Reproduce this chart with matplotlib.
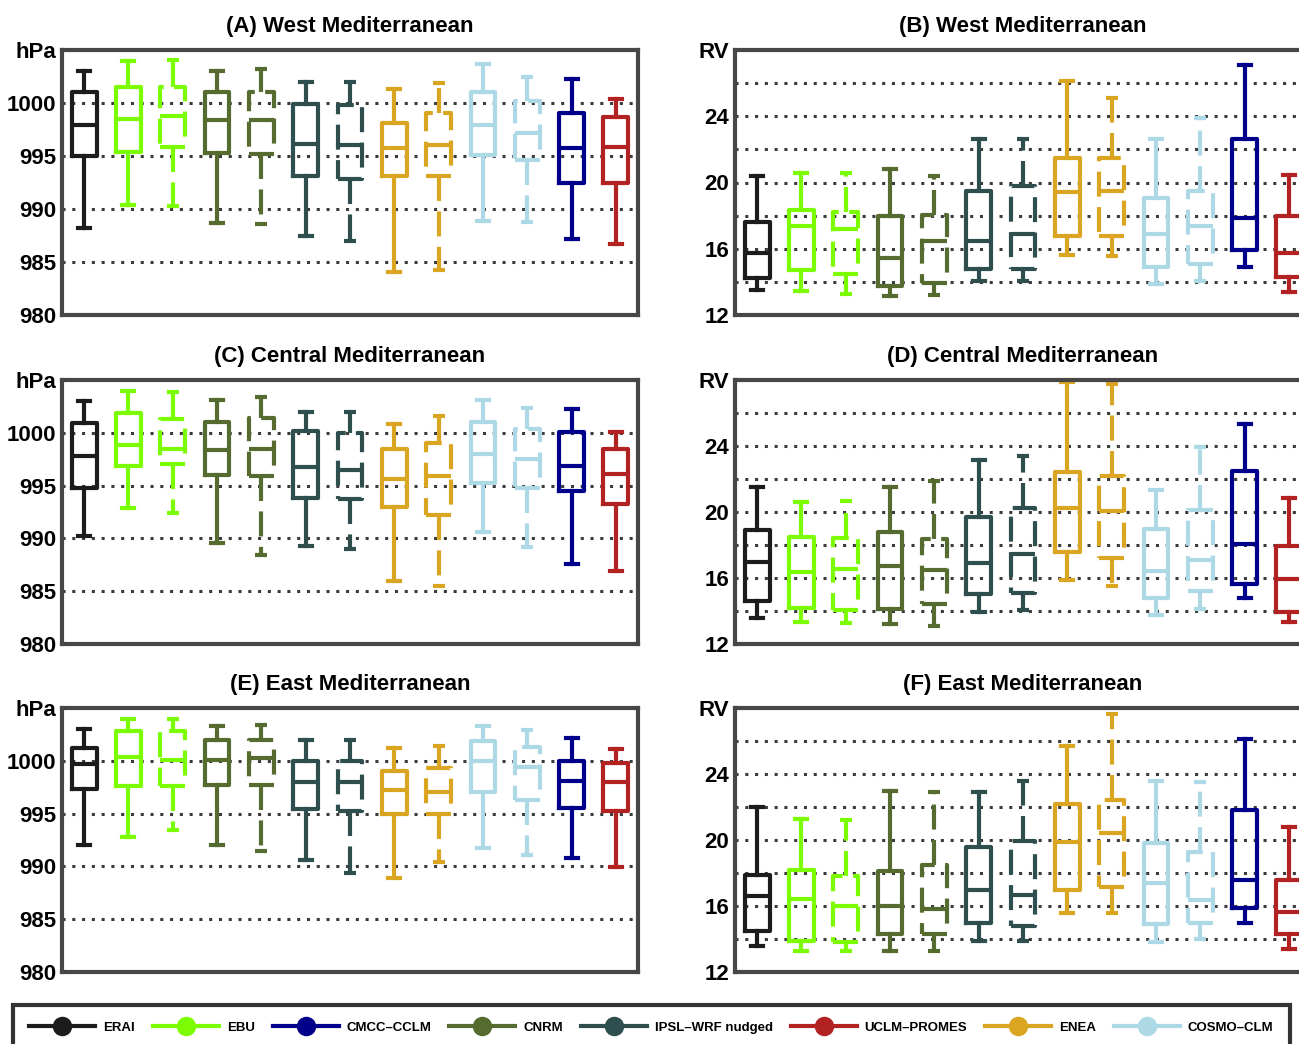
import matplotlib
matplotlib.use("Agg")
import matplotlib.pyplot as plt
from matplotlib.lines import Line2D

plt.rcParams['font.family'] = ['Liberation Sans', 'DejaVu Sans']

# models in box order (solid / dashed pairs for the RCMs)
box_colors = ['#1c1c1c', '#7cfc00', '#7cfc00', '#556b2f', '#556b2f',
              '#2f4f4f', '#2f4f4f', '#daa520', '#daa520',
              '#add8e6', '#add8e6', '#00008b', '#b22222']
box_dashed = [False, False, True, False, True, False, True,
              False, True, False, True, False, False]

legend_labels = ['ERAI', 'EBU', 'CMCC\u2013CCLM', 'CNRM', 'IPSL\u2013WRF nudged',
                 'UCLM\u2013PROMES', 'ENEA', 'COSMO\u2013CLM']
legend_colors = ['#1c1c1c', '#7cfc00', '#00008b', '#556b2f', '#2f4f4f',
                 '#b22222', '#daa520', '#add8e6']

# (A) West Mediterranean, pressure (hPa)
a_lo = [988.2, 990.35, 990.25, 988.7, 988.6, 987.5, 987.0, 984.05, 984.2, 988.9, 988.8, 987.2, 986.7]
a_q1 = [994.97, 995.4, 995.85, 995.3, 995.2, 993.1, 992.8, 993.1, 993.1, 995.1, 994.65, 992.45, 992.45]
a_med = [997.96, 998.5, 998.8, 998.4, 998.4, 996.1, 996.0, 995.75, 996.0, 997.9, 997.2, 995.75, 995.85]
a_q3 = [1001.04, 1001.5, 1001.5, 1001.0, 1001.0, 999.9, 999.8, 998.1, 999.1, 1001.0, 1000.2, 999.05, 998.7]
a_hi = [1003.0, 1004.0, 1004.1, 1003.0, 1003.2, 1002.0, 1002.0, 1001.3, 1001.9, 1003.7, 1002.5, 1002.3, 1000.4]

# (B) West Mediterranean, relative vorticity
b_lo = [13.5, 13.45, 13.25, 13.15, 13.2, 14.05, 14.05, 15.65, 15.55, 13.85, 14.05, 14.9, 13.4]
b_q1 = [14.25, 14.7, 14.45, 13.75, 13.95, 14.8, 14.8, 16.75, 16.75, 14.9, 15.1, 15.9, 14.3]
b_med = [15.75, 17.35, 17.2, 15.45, 16.45, 16.45, 16.9, 19.45, 19.5, 16.9, 17.35, 17.85, 15.75]
b_q3 = [17.6, 18.35, 18.2, 18.0, 18.05, 19.5, 19.8, 21.45, 21.45, 19.05, 19.5, 22.6, 18.0]
b_hi = [20.4, 20.55, 20.55, 20.8, 20.4, 22.6, 22.6, 26.1, 25.1, 22.6, 23.9, 27.1, 20.45]

# (C) Central Mediterranean, pressure (hPa)
c_lo = [990.25, 992.9, 992.45, 989.55, 988.4, 989.3, 989.0, 986.0, 985.5, 990.65, 989.15, 987.55, 986.95]
c_q1 = [994.8, 996.9, 997.0, 996.0, 995.9, 993.8, 993.7, 992.95, 992.25, 995.2, 994.75, 994.45, 993.25]
c_med = [997.8, 998.85, 998.5, 998.4, 998.5, 996.8, 996.5, 995.6, 995.9, 998.0, 997.5, 996.9, 996.1]
c_q3 = [1000.9, 1001.9, 1001.35, 1001.0, 1001.4, 1000.15, 1000.0, 998.5, 999.05, 1001.0, 1000.4, 1000.05, 998.5]
c_hi = [1003.0, 1004.0, 1003.9, 1003.1, 1003.35, 1002.0, 1002.0, 1000.85, 1001.6, 1003.1, 1002.35, 1002.25, 1000.05]

# (D) Central Mediterranean, relative vorticity
d_lo = [13.55, 13.35, 13.25, 13.2, 13.1, 13.95, 14.05, 15.85, 15.5, 13.75, 14.1, 14.8, 13.35]
d_q1 = [14.6, 14.2, 14.05, 14.1, 14.4, 15.05, 15.1, 17.6, 17.2, 14.8, 15.2, 15.65, 13.95]
d_med = [17.0, 16.35, 16.55, 16.7, 16.5, 16.9, 17.45, 20.25, 20.05, 16.4, 17.1, 18.05, 15.95]
d_q3 = [18.9, 18.5, 18.45, 18.8, 18.35, 19.7, 20.25, 22.4, 22.2, 19.0, 20.15, 22.5, 17.95]
d_hi = [21.5, 20.6, 20.65, 21.5, 21.9, 23.15, 23.4, 27.85, 27.75, 21.35, 23.95, 25.35, 20.85]

# (E) East Mediterranean, pressure (hPa)
e_lo = [992.05, 992.75, 993.45, 992.0, 991.5, 990.65, 989.4, 988.9, 990.4, 991.7, 991.1, 990.8, 989.9]
e_q1 = [997.3, 997.6, 997.6, 997.75, 997.75, 995.4, 995.2, 995.0, 995.0, 997.0, 996.3, 995.55, 995.2]
e_med = [999.65, 1000.4, 1000.1, 1000.1, 1000.3, 998.0, 998.0, 997.2, 997.05, 1000.0, 999.4, 998.05, 998.0]
e_q3 = [1001.2, 1002.8, 1002.8, 1002.0, 1002.0, 1000.0, 1000.0, 999.0, 999.3, 1001.9, 1001.3, 1000.0, 999.8]
e_hi = [1003.0, 1004.0, 1004.0, 1003.3, 1003.4, 1002.0, 1002.0, 1001.2, 1001.4, 1003.3, 1002.9, 1002.2, 1001.15]

# (F) East Mediterranean, relative vorticity
f_lo = [13.6, 13.3, 13.25, 13.25, 13.25, 13.9, 13.9, 15.6, 15.55, 13.8, 14.0, 14.95, 13.4]
f_q1 = [14.5, 13.9, 13.8, 14.3, 14.3, 14.95, 14.8, 17.0, 17.15, 14.9, 14.95, 15.9, 14.3]
f_med = [16.6, 16.45, 16.0, 16.0, 15.8, 17.0, 16.65, 19.9, 20.45, 17.4, 16.35, 17.55, 15.65]
f_q3 = [17.9, 18.2, 17.8, 18.1, 18.5, 19.55, 19.95, 22.2, 22.4, 19.8, 19.25, 21.8, 17.6]
f_hi = [22.0, 21.25, 21.2, 23.0, 22.9, 22.9, 23.55, 25.7, 27.65, 23.55, 23.5, 26.1, 20.8]

hpa_ticks = [980, 985, 990, 995, 1000, 1005]
hpa_labels = ['980', '985', '990', '995', '1000', 'hPa']
hpa_grid = [985, 990, 995, 1000]
rv_ticks = [12, 16, 20, 24, 28]
rv_labels = ['12', '16', '20', '24', 'RV']
rv_grid = [14, 16, 18, 20, 22, 24, 26]

W, H = 1299, 1044
fig = plt.figure(figsize=(W / 100, H / 100), dpi=100)

spine_col = '#474747'
lw_box = 3.0
tick_font = dict(family=['Liberation Sans', 'DejaVu Sans'], weight='bold', size=16)


def make_axes(left_px, top_px, bottom_px):
    return fig.add_axes([left_px / W, 1 - bottom_px / H, 576 / W, (bottom_px - top_px) / H])


def draw_panel(ax, title, lo, q1, med, q3, hi, ticks, labels, grid, ylim):
    for g in grid:
        ax.axhline(g, color='#3a3a3a', linestyle=(0, (1, 2.2)), linewidth=2.2, zorder=1)
    for i in range(len(med)):
        st = dict(med=med[i], q1=q1[i], q3=q3[i], whislo=lo[i], whishi=hi[i], fliers=[])
        ls = (0, (6, 2.5)) if box_dashed[i] else '-'
        props = dict(color=box_colors[i], linewidth=lw_box, linestyle=ls)
        ax.bxp([st], positions=[i + 1], widths=0.56, capwidths=0.27, showfliers=False,
               boxprops=props, whiskerprops=props, capprops=props, medianprops=props,
               manage_ticks=False, zorder=3)
    ax.set_xlim(0.5, 13.5)
    ax.set_ylim(*ylim)
    ax.set_xticks([])
    ax.set_yticks(ticks)
    ax.set_yticklabels(labels, fontdict=tick_font)
    ax.tick_params(axis='y', length=0, pad=4)
    for sp in ax.spines.values():
        sp.set_color(spine_col)
        sp.set_linewidth(3)
        sp.set_zorder(5)
    ax.set_title(title, fontsize=16, fontweight='bold', pad=13)


rows = [(50, 315), (380, 644), (708, 972)]
titles_left = ['(A) West Mediterranean', '(C) Central Mediterranean', '(E) East Mediterranean']
titles_right = ['(B) West Mediterranean', '(D) Central Mediterranean', '(F) East Mediterranean']
left_data = [(a_lo, a_q1, a_med, a_q3, a_hi), (c_lo, c_q1, c_med, c_q3, c_hi), (e_lo, e_q1, e_med, e_q3, e_hi)]
right_data = [(b_lo, b_q1, b_med, b_q3, b_hi), (d_lo, d_q1, d_med, d_q3, d_hi), (f_lo, f_q1, f_med, f_q3, f_hi)]

for r, (top, bottom) in enumerate(rows):
    axl = make_axes(62, top, bottom)
    draw_panel(axl, titles_left[r], *left_data[r], hpa_ticks, hpa_labels, hpa_grid, (980, 1005))
    axr = make_axes(735, top, bottom)
    draw_panel(axr, titles_right[r], *right_data[r], rv_ticks, rv_labels, rv_grid, (12, 28))

handles = [Line2D([], [], color=c, lw=3, marker='o', markersize=13) for c in legend_colors]
leg = fig.legend(handles, legend_labels, loc='upper left', ncol=8, mode='expand',
                 bbox_to_anchor=(13 / W, -0.2, 1277 / W, 0.2 + 1 - 1005 / H),
                 borderaxespad=0, borderpad=1.25, handlelength=5.0, handletextpad=0.6,
                 fancybox=False, prop=dict(weight='bold', size=9.5))
leg.get_frame().set_edgecolor('black')
leg.get_frame().set_linewidth(3)

fig.savefig('out.png', dpi=100)
